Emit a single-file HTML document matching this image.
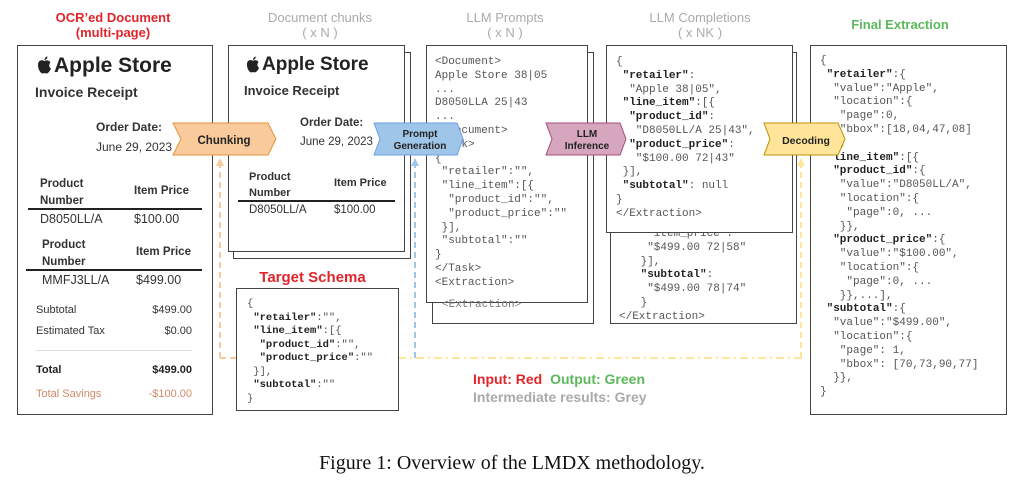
<!DOCTYPE html>
<html><head><style>
body{margin:0;width:1024px;height:495px;background:#fff;position:relative;overflow:hidden;font-family:"Liberation Sans",sans-serif}
.a{position:absolute}
.box{position:absolute;border:1.5px solid #444;background:#fff;box-sizing:border-box}
.t{position:absolute;font-weight:bold;font-size:13px;text-align:center;line-height:15px}
.code{position:absolute;font-family:"Liberation Mono",monospace;font-size:11px;line-height:13.8px;color:#555;white-space:pre}
.code b{color:#222}
.sm{color:#333;font-size:11.5px}
</style></head><body>
<div class="t" style="left:33px;top:10px;width:160px;color:#e0252b">OCR’ed Document<br>(multi-page)</div>
<div class="t" style="left:240px;top:10px;width:160px;color:#aaa;font-weight:normal">Document chunks<br>( x N )</div>
<div class="t" style="left:430px;top:10px;width:150px;color:#aaa;font-weight:normal">LLM Prompts<br>( x N )</div>
<div class="t" style="left:620px;top:10px;width:160px;color:#aaa;font-weight:normal">LLM Completions<br>( x NK )</div>
<div class="t" style="left:840px;top:17px;width:120px;color:#5cb85c">Final Extraction</div>

<svg class="a" style="left:0;top:0" width="1024" height="495">
<line x1="220" y1="162" x2="220" y2="358" stroke="#f9cb9c" stroke-width="2" stroke-dasharray="6,4"/>
<line x1="220" y1="358" x2="236" y2="358" stroke="#f9cb9c" stroke-width="2" stroke-dasharray="6,4"/>
<polygon points="216,166 220,158 224,166" fill="#f9cb9c"/>
<line x1="398" y1="358" x2="802" y2="358" stroke="#ffe599" stroke-width="2" stroke-dasharray="8,4,2,4"/>
<line x1="415" y1="162" x2="415" y2="358" stroke="#9fc5e8" stroke-width="2" stroke-dasharray="6,4"/>
<polygon points="411,166 415,158 419,166" fill="#9fc5e8"/>
<line x1="801" y1="162" x2="801" y2="358" stroke="#ffe599" stroke-width="2" stroke-dasharray="6,4"/>
<polygon points="797,166 801,158 805,166" fill="#ffe599"/>
</svg>

<!-- OCR doc -->
<div class="box" style="left:17px;top:45px;width:196px;height:370px"></div>
<svg class="a" style="left:37px;top:56px" width="15" height="18" viewBox="0 0 15 18"><path d="M7.5 5 C5 3.5 1 4 1 9 C1 14 4 17.5 5.5 17.5 C6.5 17.5 7 17 7.5 17 C8 17 8.5 17.5 9.5 17.5 C11 17.5 13 15 14 12.5 C12 11.5 11.5 8 13.5 6.5 C12 4 9.5 4 7.5 5 Z M7.5 4 C7.5 2 9 0.5 10.5 0.5 C10.5 2.5 9 4 7.5 4 Z" fill="#222"/></svg>
<div class="a" style="left:54px;top:54px;font-size:21px;font-weight:bold;color:#222">Apple Store</div>
<div class="a" style="left:35px;top:84px;font-size:14px;font-weight:bold;color:#333">Invoice Receipt</div>
<div class="a" style="left:96px;top:120px;font-size:12px;font-weight:bold;color:#333">Order Date:</div>
<div class="a" style="left:96px;top:140px;font-size:12px;color:#333">June 29, 2023</div>
<div class="a sm" style="left:40px;top:176px;font-weight:bold;line-height:17px">Product<br>Number</div>
<div class="a sm" style="left:134px;top:185px;font-weight:bold">Item Price</div>
<div class="a" style="left:28px;top:208px;width:174px;height:2px;background:#222"></div>
<div class="a sm" style="left:40px;top:212px;font-size:12.5px">D8050LL/A</div>
<div class="a sm" style="left:134px;top:212px;font-size:12.5px">$100.00</div>
<div class="a sm" style="left:42px;top:237px;font-weight:bold;line-height:17px">Product<br>Number</div>
<div class="a sm" style="left:136px;top:246px;font-weight:bold">Item Price</div>
<div class="a" style="left:26px;top:269px;width:176px;height:2px;background:#222"></div>
<div class="a sm" style="left:42px;top:273px;font-size:12.5px">MMFJ3LL/A</div>
<div class="a sm" style="left:136px;top:273px;font-size:12.5px">$499.00</div>
<div class="a" style="left:36px;top:304px;font-size:11px;color:#333">Subtotal</div>
<div class="a" style="left:150px;top:304px;width:42px;text-align:right;font-size:11px;color:#333">$499.00</div>
<div class="a" style="left:36px;top:325px;font-size:11px;color:#333">Estimated Tax</div>
<div class="a" style="left:150px;top:325px;width:42px;text-align:right;font-size:11px;color:#333">$0.00</div>
<div class="a" style="left:36px;top:350px;width:156px;height:1px;background:#ddd"></div>
<div class="a" style="left:36px;top:364px;font-size:11px;font-weight:bold;color:#222">Total</div>
<div class="a" style="left:140px;top:364px;width:52px;text-align:right;font-size:11px;font-weight:bold;color:#222">$499.00</div>
<div class="a" style="left:36px;top:388px;font-size:11px;color:#d08a68">Total Savings</div>
<div class="a" style="left:140px;top:388px;width:52px;text-align:right;font-size:11px;color:#d08a68">-$100.00</div>

<!-- chunks -->
<div class="box" style="left:233px;top:52px;width:178px;height:207px"></div>
<div class="box" style="left:228px;top:45px;width:177px;height:207px"></div>
<svg class="a" style="left:246px;top:56px" width="14" height="17" viewBox="0 0 15 18"><path d="M7.5 5 C5 3.5 1 4 1 9 C1 14 4 17.5 5.5 17.5 C6.5 17.5 7 17 7.5 17 C8 17 8.5 17.5 9.5 17.5 C11 17.5 13 15 14 12.5 C12 11.5 11.5 8 13.5 6.5 C12 4 9.5 4 7.5 5 Z M7.5 4 C7.5 2 9 0.5 10.5 0.5 C10.5 2.5 9 4 7.5 4 Z" fill="#222"/></svg>
<div class="a" style="left:262px;top:54px;font-size:19px;font-weight:bold;color:#222">Apple Store</div>
<div class="a" style="left:244px;top:83px;font-size:13px;font-weight:bold;color:#333">Invoice Receipt</div>
<div class="a" style="left:300px;top:117px;font-size:11.5px;font-weight:bold;color:#333">Order Date:</div>
<div class="a" style="left:300px;top:136px;font-size:11.5px;color:#333">June 29, 2023</div>
<div class="a" style="left:249px;top:169px;font-size:11px;font-weight:bold;color:#333;line-height:16px">Product<br>Number</div>
<div class="a" style="left:334px;top:177px;font-size:11px;font-weight:bold;color:#333">Item Price</div>
<div class="a" style="left:238px;top:200px;width:157px;height:2px;background:#222"></div>
<div class="a" style="left:249px;top:204px;font-size:11.5px;color:#333">D8050LL/A</div>
<div class="a" style="left:334px;top:204px;font-size:11.5px;color:#333">$100.00</div>

<div class="t" style="left:240px;top:270px;width:145px;color:#e0252b;font-size:15px">Target Schema</div>
<div class="box" style="left:236px;top:288px;width:163px;height:123px"></div>
<div class="code" style="left:247px;top:298px;font-size:10.5px;line-height:13.5px">{
 <b>"retailer"</b>:"",
 <b>"line_item"</b>:[{
  <b>"product_id"</b>:"",
  <b>"product_price"</b>:""
 }],
 <b>"subtotal"</b>:""
}</div>

<!-- prompts -->
<div class="box" style="left:432px;top:52px;width:162px;height:272px"></div>
<div class="box" style="left:426px;top:45px;width:162px;height:258px"></div>
<div class="code" style="left:435px;top:56px">&lt;Document&gt;
Apple Store 38|05
...
D8050LLA 25|43
...
&lt;/Document&gt;
&lt;Task&gt;
{
 "retailer":"",
 "line_item":[{
  "product_id":"",
  "product_price":""
 }],
 "subtotal":""
}
&lt;/Task&gt;
&lt;Extraction&gt;</div>
<div class="code" style="left:442px;top:299px;color:#777">&lt;Extraction&gt;</div>

<!-- completions -->
<div class="box" style="left:610px;top:52px;width:187px;height:272px"></div>
<div class="code" style="left:634px;top:228px;color:#555">  "item_price":
  "$499.00 72|58"
 }],
 <b>"subtotal"</b>:
  "$499.00 78|74"
 }
</div>
<div class="code" style="left:619px;top:311px">&lt;/Extraction&gt;</div>
<div class="box" style="left:606px;top:45px;width:187px;height:188px"></div>
<div class="code" style="left:616px;top:56px">{
 <b>"retailer"</b>:
  "Apple 38|05",
 <b>"line_item"</b>:[{
  <b>"product_id"</b>:
   "D8050LL/A 25|43",
  <b>"product_price"</b>:
   "$100.00 72|43"
 }],
 <b>"subtotal"</b>: null
}
&lt;/Extraction&gt;</div>

<!-- final -->
<div class="box" style="left:810px;top:45px;width:197px;height:370px"></div>
<div class="code" style="left:820px;top:55px">{
 <b>"retailer"</b>:{
  "value":"Apple",
  "location":{
   "page":0,
   "bbox":[18,04,47,08]
  },
 <b>"line_item"</b>:[{
  <b>"product_id"</b>:{
   "value":"D8050LL/A",
   "location":{
    "page":0, ...
   }},
  <b>"product_price"</b>:{
   "value":"$100.00",
   "location":{
    "page":0, ...
   }},...],
 <b>"subtotal"</b>:{
  "value":"$499.00",
  "location":{
   "page": 1,
   "bbox": [70,73,90,77]
  }},
}</div>

<!-- chevrons -->
<svg class="a" style="left:0;top:0" width="1024" height="495">
<polygon points="173,123 268,123 276,139 268,155 173,155 181,139" fill="#f9cb9c" stroke="#e69138" stroke-width="1"/>
<text x="224" y="144" font-family="Liberation Sans" font-weight="bold" font-size="11.5" text-anchor="middle" fill="#222">Chunking</text>
<polygon points="374,123 457,123 463,139 457,155 374,155 380,139" fill="#9fc5e8" stroke="#6d9eeb" stroke-width="1"/>
<text x="420" y="137" font-family="Liberation Sans" font-weight="bold" font-size="10" text-anchor="middle" fill="#222">Prompt</text>
<text x="420" y="149" font-family="Liberation Sans" font-weight="bold" font-size="10" text-anchor="middle" fill="#222">Generation</text>
<polygon points="546,123 620,123 626,139 620,155 546,155 552,139" fill="#d5a6bd" stroke="#a64d79" stroke-width="1"/>
<text x="587" y="137" font-family="Liberation Sans" font-weight="bold" font-size="10" text-anchor="middle" fill="#222">LLM</text>
<text x="587" y="149" font-family="Liberation Sans" font-weight="bold" font-size="10" text-anchor="middle" fill="#222">Inference</text>
<polygon points="764,123 838,123 845,139 838,155 764,155 770,139" fill="#ffe599" stroke="#bf9000" stroke-width="1"/>
<text x="806" y="144" font-family="Liberation Sans" font-weight="bold" font-size="10.5" text-anchor="middle" fill="#222">Decoding</text>
</svg>

<div class="a" style="left:473px;top:371px;font-size:14px;font-weight:bold;color:#e0252b">Input: Red <span style="color:#5cb85c;margin-left:4px">Output: Green</span></div>
<div class="a" style="left:473px;top:389px;font-size:14px;font-weight:bold;color:#aaa">Intermediate results: Grey</div>

<div class="a" style="left:0;top:452px;width:1024px;text-align:center;font-family:'Liberation Serif',serif;font-size:20px;color:#111">Figure 1: Overview of the LMDX methodology.</div>
</body></html>
